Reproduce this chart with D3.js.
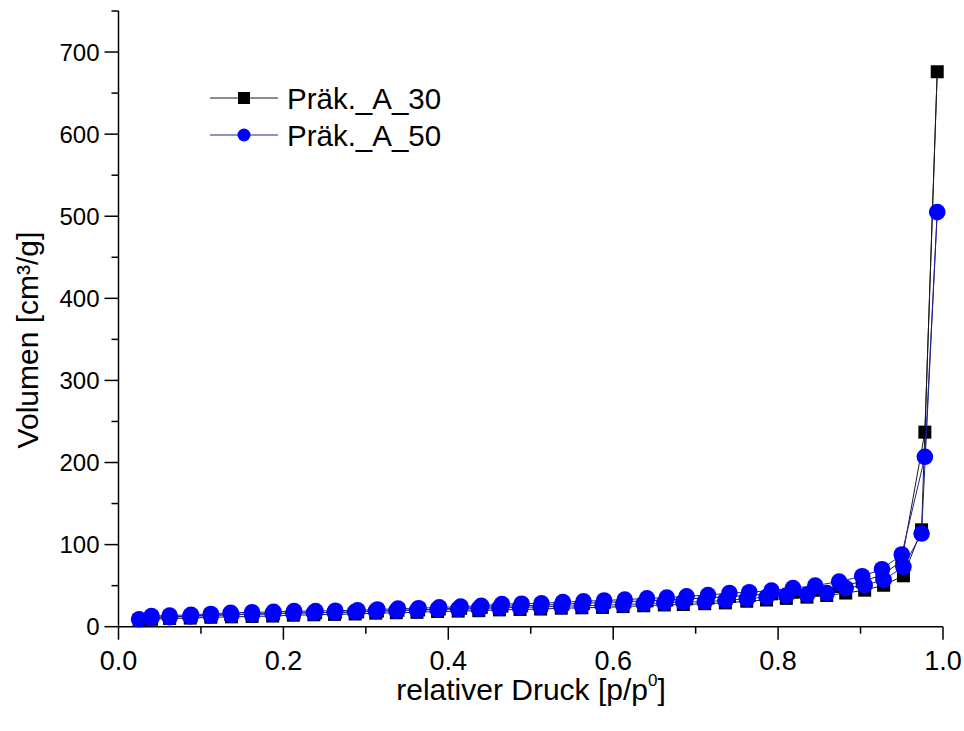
<!DOCTYPE html>
<html><head><meta charset="utf-8">
<script src="https://cdn.jsdelivr.net/npm/d3@7"></script>
<style>body{margin:0;background:#fff}</style>
</head><body>
<svg id="c" width="964" height="731"></svg>
<script>
// ---- data ----
const seriesNames = ["Präk._A_30", "Präk._A_50"];
const xTicks = [0.0, 0.2, 0.4, 0.6, 0.8, 1.0];
const yTicks = [0, 100, 200, 300, 400, 500, 600, 700];

const adsX = [0.025,0.04,0.062,0.087,0.112,0.137,0.162,0.187,0.212,0.237,0.262,0.287,0.312,0.337,0.362,0.387,0.412,0.437,0.462,0.487,0.512,0.537,0.562,0.587,0.612,0.637,0.662,0.685,0.711,0.736,0.762,0.786,0.810,0.835,0.859,0.882,0.905,0.928,0.952,0.974,0.993];
const desX = [0.978,0.95,0.926,0.902,0.874,0.845,0.818,0.792,0.765,0.741,0.715,0.689,0.665,0.641,0.614,0.589,0.564,0.539,0.513,0.489,0.465,0.44,0.415,0.389,0.364,0.339,0.314,0.29,0.263,0.239,0.213,0.188,0.162,0.136,0.112,0.088,0.062,0.04];

const a30Ads = [8,9,10,10.5,11.5,12,12.5,13,14,14.5,15,15.5,16.5,17,17.5,18.5,19,19.5,20.5,21,21.5,22.5,23,23.5,24.5,25.5,26.5,27,28,29,31,32.5,34.5,36,38,41,44.5,50.5,62,118,676];
const a30Des = [237,80,63,55,49,45,42,40,38,37,35,34,32.5,31.5,30.5,29.5,28.5,27.5,26,25.5,25,23.5,22.5,21.5,20.5,20,19,18,17.5,17,17,16,15.5,15,14,13,12,11.5];
const a50Ads = [9,11,11.5,12.5,13.5,14.5,15,15.5,16.5,17,17.5,18,19,19.5,20,21,21.5,22,23,23.5,24,25,25.5,26,27,28,29,30,30.5,32,34,36,38,39,41,47,50.6,57,73,113.5,505];
const a50Des = [207,88,70,61.5,55,50,47,44,42,41,38.5,37,35.5,34.5,33,32,31,30,28.5,28,27.5,25.5,24.5,23.5,22.5,22,21,20,19.5,19,19,18,17.5,17,15.5,14.5,13.5,13];

// ---- layout ----
const svg = d3.select("#c");
const m = {left:118.5, right:943, top:11, bottom:626.7};
const x = d3.scaleLinear().domain([0,1]).range([m.left, m.right]);
const y = d3.scaleLinear().domain([0,750]).range([m.bottom, m.top]);
const font = "'Liberation Sans', Arial, sans-serif";

function pts(xs, ys){ return xs.map((v,i)=>({x:v,y:ys[i]})); }
const series = [
  {name:seriesNames[0], data: pts(adsX,a30Ads).concat(pts(desX,a30Des)), line:"#1a1a1a", fill:"#000", shape:"square"},
  {name:seriesNames[1], data: pts(adsX,a50Ads).concat(pts(desX,a50Des)), line:"#22228f", fill:"#0000ff", shape:"circle"}
];

// axes
const gx = svg.append("g").attr("transform",`translate(0,${m.bottom})`);
gx.append("line").attr("x1",m.left).attr("x2",m.right).attr("stroke","#000").attr("stroke-width",1.5);
const xMinor = [0.1,0.3,0.5,0.7,0.9];
gx.selectAll(".xmaj").data(xTicks).enter().append("line")
  .attr("x1",d=>x(d)).attr("x2",d=>x(d)).attr("y1",0).attr("y2",13).attr("stroke","#000").attr("stroke-width",1.5);
gx.selectAll(".xmin").data(xMinor).enter().append("line")
  .attr("x1",d=>x(d)).attr("x2",d=>x(d)).attr("y1",0).attr("y2",7).attr("stroke","#000").attr("stroke-width",1.5);
gx.selectAll(".xl").data(xTicks).enter().append("text")
  .attr("x",d=>x(d)).attr("y",43).attr("text-anchor","middle")
  .attr("font-family",font).attr("font-size",27).text(d=>d3.format(".1f")(d));

const gy = svg.append("g").attr("transform",`translate(${m.left},0)`);
gy.append("line").attr("y1",m.top).attr("y2",m.bottom).attr("stroke","#000").attr("stroke-width",1.5);
const yMinor = [50,150,250,350,450,550,650,750];
gy.selectAll(".ymaj").data(yTicks).enter().append("line")
  .attr("y1",d=>y(d)).attr("y2",d=>y(d)).attr("x1",0).attr("x2",-14).attr("stroke","#000").attr("stroke-width",1.5);
gy.selectAll(".ymin").data(yMinor).enter().append("line")
  .attr("y1",d=>y(d)).attr("y2",d=>y(d)).attr("x1",0).attr("x2",-7).attr("stroke","#000").attr("stroke-width",1.5);
gy.selectAll(".yl").data(yTicks).enter().append("text")
  .attr("x",-19).attr("y",d=>y(d)+8.5).attr("text-anchor","end")
  .attr("font-family",font).attr("font-size",24).text(d=>d);

// titles
const xt = svg.append("text").attr("x",531).attr("y",700).attr("text-anchor","middle")
  .attr("font-family",font).attr("font-size",30);
xt.append("tspan").text("relativer Druck [p/p");
xt.append("tspan").attr("font-size",17).attr("dy",-14).text("0");
xt.append("tspan").attr("dy",14).text("]");

svg.append("text").attr("transform","translate(38,340) rotate(-90)").attr("text-anchor","middle")
  .attr("font-family",font).attr("font-size",30).text("Volumen [cm³/g]");

// series
const line = d3.line().x(d=>x(d.x)).y(d=>y(d.y));
const plot = svg.append("g");
series.forEach(s=>{
  const g = plot.append("g");
  g.append("path").attr("d",line(s.data)).attr("fill","none").attr("stroke",s.line).attr("stroke-width",1);
  if(s.shape==="square"){
    g.selectAll("rect").data(s.data).enter().append("rect")
      .attr("x",d=>x(d.x)-6.5).attr("y",d=>y(d.y)-6.5).attr("width",13).attr("height",13).attr("fill",s.fill);
  } else {
    g.selectAll("circle").data(s.data).enter().append("circle")
      .attr("cx",d=>x(d.x)).attr("cy",d=>y(d.y)).attr("r",8.3).attr("fill",s.fill);
  }
});

// legend
const lg = svg.append("g");
series.forEach((s,i)=>{
  const yy = 98 + i*37;
  lg.append("line").attr("x1",210).attr("x2",278).attr("y1",yy).attr("y2",yy).attr("stroke",s.line).attr("stroke-width",1);
  if(s.shape==="square") lg.append("rect").attr("x",238).attr("y",yy-6).attr("width",12).attr("height",12).attr("fill",s.fill);
  else lg.append("circle").attr("cx",244).attr("cy",yy).attr("r",6.5).attr("fill",s.fill);
  lg.append("text").attr("x",287).attr("y",yy+10.5).attr("font-family",font).attr("font-size",29.5).text(s.name);
});
</script>
</body></html>
